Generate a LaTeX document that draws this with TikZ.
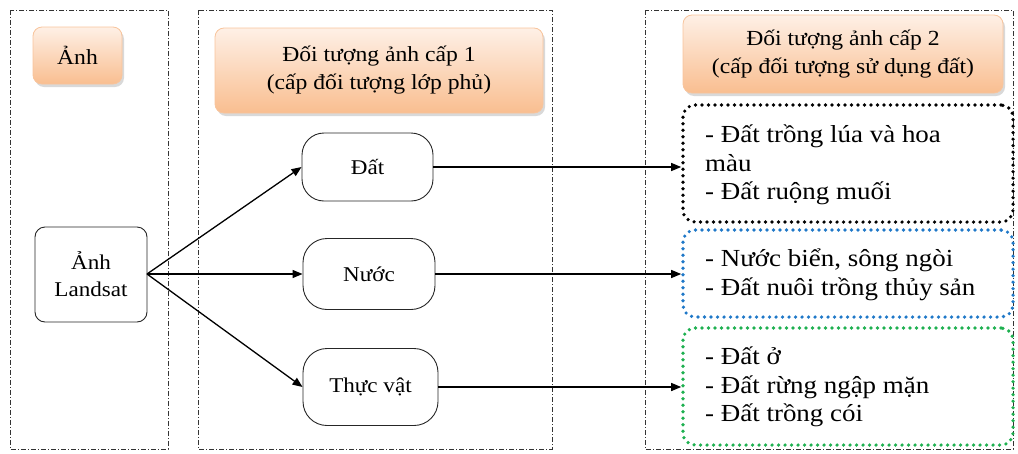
\documentclass[tikz,border=0pt]{standalone}
\usepackage{fontspec}
\setmainfont[FakeStretch=1.1]{Liberation Serif}
\usetikzlibrary{shadows,arrows.meta}
\definecolor{dotblue}{HTML}{1F78C8}
\definecolor{dotgreen}{HTML}{1EB050}
\definecolor{orbord}{HTML}{F8C49C}
\definecolor{ortop}{HTML}{FEF0E6}
\definecolor{orbot}{HTML}{F9BE90}
\tikzset{
  frame/.style={draw=black!80, line width=0.9pt, dash pattern=on 5pt off 2pt on 1pt off 2pt},
  hdr/.style={draw=orbord, line width=0.8pt, rounded corners=9pt, top color=ortop, bottom color=orbot,
     drop shadow={shadow xshift=2pt, shadow yshift=-3pt, opacity=0.3}, align=center, font=\fontsize{21.5}{28}\selectfont, inner sep=0pt},
  plain/.style={draw=black!85, line width=0.9pt, align=center, font=\fontsize{21}{27}\selectfont, inner sep=0pt},
  dotbox/.style={line width=3.6pt, dash pattern=on 0pt off 6.5pt, line cap=round, rounded corners=12pt, inner sep=0pt},
  itemtxt/.style={align=left, anchor=west, font=\fontsize{24.5}{28.5}\selectfont, inner sep=0pt},
  conn/.style={line width=1.3pt, -{Triangle[length=10pt,width=8pt]}}
}
\begin{document}
\begin{tikzpicture}[x=1pt,y=-1pt]
\useasboundingbox (0,0) rectangle (1018,453);
% frames
\draw[frame] (10,10) rectangle (168,449);
\draw[frame] (198,10) rectangle (552,449);
\draw[frame] (645,10) rectangle (1013,449);
% headers
\node[hdr, minimum width=89pt, minimum height=57pt] (h0) at (77.5,55.5) {Ảnh};
\node[hdr, minimum width=328pt, minimum height=85pt] (h1) at (379,70.5) {Đối tượng ảnh cấp 1\\(cấp đối tượng lớp phủ)};
\node[hdr, minimum width=320pt, minimum height=78pt] (h2) at (843,54) {Đối tượng ảnh cấp 2\\(cấp đối tượng sử dụng đất)};
% left nodes
\node[plain, rounded corners=10pt, minimum width=112pt, minimum height=95pt] (ls) at (91,274.5) {Ảnh\\Landsat};
\node[plain, rounded corners=22pt, minimum width=131pt, minimum height=68pt] (dat) at (367.5,167) {Đất};
\node[plain, rounded corners=24pt, minimum width=132pt, minimum height=71pt] (nuoc) at (369,274) {Nước};
\node[plain, rounded corners=24pt, minimum width=135pt, minimum height=77pt] (tv) at (370.5,387) {Thực vật};
% right boxes
\node[dotbox, draw=black, minimum width=330pt, minimum height=117pt] (b1) at (848,163.5) {};
\node[dotbox, draw=dotblue, minimum width=330pt, minimum height=87pt] (b2) at (848,273.5) {};
\node[dotbox, draw=dotgreen, minimum width=330pt, minimum height=117pt] (b3) at (848,386.5) {};
\node[itemtxt] at (705,165) {- Đất trồng lúa và hoa\\màu\\- Đất ruộng muối};
\node[itemtxt] at (705,275) {- Nước biển, sông ngòi\\- Đất nuôi trồng thủy sản};
\node[itemtxt] at (705,387) {- Đất ở\\- Đất rừng ngập mặn\\- Đất trồng cói};
% connectors
\coordinate (src) at (147,274);
\draw[conn] (src) -- (dat.west);
\draw[conn] (src) -- (nuoc.west);
\draw[conn] (src) -- (tv.west);
\draw[conn] (dat.east) -- (b1.west|-dat.east);
\draw[conn] (nuoc.east) -- (b2.west|-nuoc.east);
\draw[conn] (tv.east) -- (b3.west|-tv.east);
\end{tikzpicture}
\end{document}
